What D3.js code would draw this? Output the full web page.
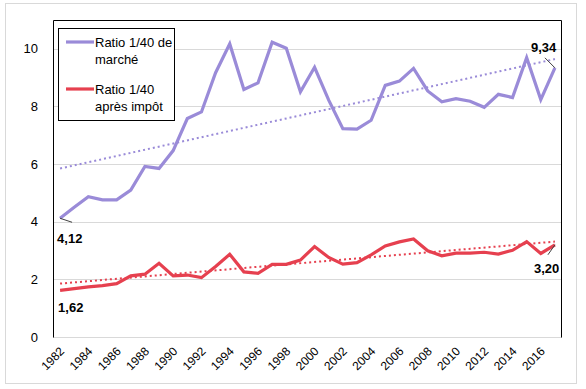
<!DOCTYPE html>
<html>
<head>
<meta charset="utf-8">
<script src="https://cdn.jsdelivr.net/npm/d3@7/dist/d3.min.js"></script>
<style>
  body { margin: 0; background: #fff; }
  svg { font-family: "Liberation Sans", Arial, sans-serif; }
</style>
</head>
<body>
<svg id="chart" width="586" height="389"></svg>
<script>
const years = d3.range(1982, 2018);
const yTicks = [0, 2, 4, 6, 8, 10];
const xTickYears = d3.range(1982, 2017, 2);

const marche = [4.12, 4.5, 4.87, 4.76, 4.76, 5.1, 5.92, 5.85, 6.47, 7.58, 7.81, 9.17,
  10.17, 8.59, 8.82, 10.23, 10.02, 8.51, 9.36, 8.22, 7.23, 7.21, 7.52, 8.73,
  8.88, 9.32, 8.54, 8.16, 8.27, 8.18, 7.97, 8.42, 8.31, 9.69, 8.24, 9.34];
const apresImpot = [1.62, 1.68, 1.74, 1.78, 1.85, 2.12, 2.18, 2.56, 2.12, 2.15, 2.06, 2.45,
  2.87, 2.26, 2.21, 2.52, 2.52, 2.67, 3.14, 2.76, 2.53, 2.58, 2.85, 3.16,
  3.30, 3.40, 2.99, 2.82, 2.91, 2.91, 2.94, 2.88, 3.01, 3.31, 2.90, 3.20];

const series = [
  { name: ["Ratio 1/40 de", "marché"], values: marche, color: "#9a8bd8" },
  { name: ["Ratio 1/40", "après impôt"], values: apresImpot, color: "#e6404f" },
];

const svg = d3.select("#chart");
const margin = { left: 53, right: 24, top: 20, bottom: 52 };
const W = 586, H = 389;

// outer chart border
svg.append("rect").attr("x", 5.5).attr("y", 3.5).attr("width", 571).attr("height", 380)
  .attr("fill", "#fff").attr("stroke", "#d9d9d9");

const x = d3.scaleBand().domain(years).range([margin.left, W - margin.right]);
const y = d3.scaleLinear().domain([0, 11]).range([H - margin.bottom, margin.top]);
const cx = d => x(d) + x.bandwidth() / 2;

// gridlines
svg.append("g").selectAll("line").data(yTicks).join("line")
  .attr("x1", margin.left).attr("x2", W - margin.right)
  .attr("y1", d => Math.round(y(d)) + 0.5).attr("y2", d => Math.round(y(d)) + 0.5)
  .attr("stroke", "#d9d9d9");

// y axis labels
svg.append("g").selectAll("text").data(yTicks).join("text")
  .attr("x", 38).attr("y", d => y(d)).attr("dy", "0.35em")
  .attr("text-anchor", "end").attr("font-size", 13).text(d => d);

// x axis labels
svg.append("g").selectAll("text").data(xTickYears).join("text")
  .attr("transform", d => `translate(${cx(d) + 5},${H - margin.bottom + 15}) rotate(-45)`)
  .attr("text-anchor", "end").attr("font-size", 12).text(d => d);

// frame
const frameTop = Math.round(y(11)) + 0.5, frameBottom = Math.round(y(0)) + 0.5;
svg.append("path")
  .attr("d", `M${margin.left + 0.5},${frameBottom}V${frameTop}H${W - margin.right - 0.5}V${frameBottom}`)
  .attr("fill", "none").attr("stroke", "#000");

// trend lines (least squares)
function trend(vals) {
  const n = vals.length, xs = d3.range(n);
  const mx = d3.mean(xs), my = d3.mean(vals);
  const b = d3.sum(xs, i => (i - mx) * (vals[i] - my)) / d3.sum(xs, i => (i - mx) ** 2);
  const a = my - b * mx;
  return [a, a + b * (n - 1)];
}

const line = d3.line().x((d, i) => cx(years[i])).y(d => y(d));

series.forEach(s => {
  const t = trend(s.values);
  svg.append("line")
    .attr("x1", cx(years[0])).attr("y1", y(t[0]))
    .attr("x2", cx(years[years.length - 1])).attr("y2", y(t[1]))
    .attr("stroke", s.color).attr("stroke-width", 2).attr("stroke-dasharray", "2,3");
});

series.forEach(s => {
  svg.append("path").datum(s.values).attr("d", line)
    .attr("fill", "none").attr("stroke", s.color).attr("stroke-width", 3.2)
    .attr("stroke-linejoin", "miter");
});

// data labels with leader lines
const labels = [
  { v: marche[0], i: 0, dx: 12, dy: 4, tx: -3, ty: 20 },
  { v: apresImpot[0], i: 0, dx: 0, dy: 0, tx: -2, ty: 17, noLeader: true },
  { v: marche[35], i: 35, dx: -10, dy: -10, tx: -24, ty: -20 },
  { v: apresImpot[35], i: 35, dx: -7, dy: 10, tx: -21, ty: 24 },
];
labels.forEach(l => {
  const px = cx(years[l.i]), py = y(l.v);
  if (!l.noLeader) {
    svg.append("line").attr("x1", px).attr("y1", py).attr("x2", px + l.dx).attr("y2", py + l.dy)
      .attr("stroke", "#404040").attr("stroke-width", 1);
  }
  svg.append("text").attr("x", px + l.tx).attr("y", py + l.ty).attr("dy", "0.35em")
    .attr("font-size", 13).attr("font-weight", "bold")
    .text(d3.format(".2f")(l.v).replace(".", ","));
});

// legend
const lg = svg.append("g");
lg.append("rect").attr("x", 58.5).attr("y", 28.5).attr("width", 116).attr("height", 92)
  .attr("fill", "#fff").attr("stroke", "#000");
series.forEach((s, k) => {
  const ly = 42 + k * 47;
  lg.append("line").attr("x1", 66).attr("x2", 94).attr("y1", ly).attr("y2", ly)
    .attr("stroke", s.color).attr("stroke-width", 3.2);
  s.name.forEach((t, j) => {
    lg.append("text").attr("x", 95).attr("y", ly + 5 + j * 17).attr("font-size", 13).text(t);
  });
});
</script>
</body>
</html>
